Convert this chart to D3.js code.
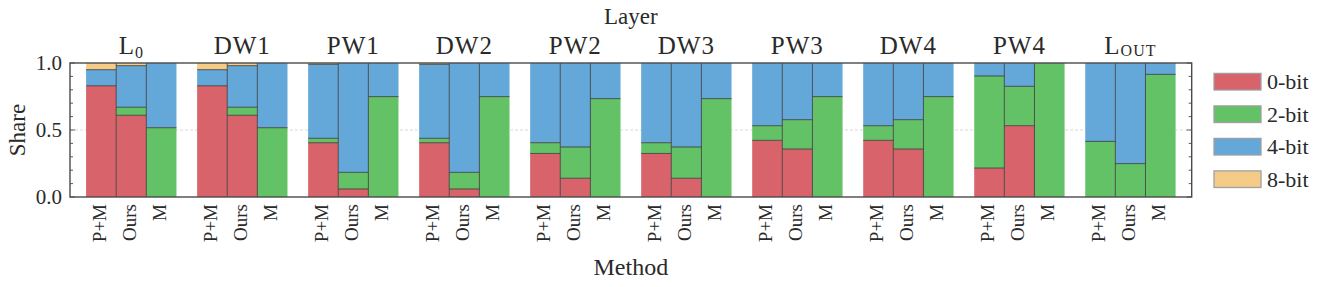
<!DOCTYPE html>
<html>
<head>
<meta charset="utf-8">
<script src="https://cdn.jsdelivr.net/npm/d3@7"></script>
<style>
  html, body { margin: 0; padding: 0; background: #fff; }
  svg { display: block; }
  text { font-family: "Liberation Serif", serif; fill: #2a2a2a; }
</style>
</head>
<body>
<svg id="chart" width="1329" height="287"></svg>
<script>
// ---- data (shares) ----
const layers = ["L0", "DW1", "PW1", "DW2", "PW2", "DW3", "PW3", "DW4", "PW4", "LOUT"];
const methods = ["P+M", "Ours", "M"];
const bitLabels = ["0-bit", "2-bit", "4-bit", "8-bit"];
const yTicks = [0, 0.5, 1.0];

// each row: one layer, values for [P+M, Ours, M]
const share0bit = [
  [0.830, 0.610, 0.000],
  [0.830, 0.610, 0.000],
  [0.405, 0.060, 0.000],
  [0.405, 0.060, 0.000],
  [0.325, 0.140, 0.000],
  [0.325, 0.140, 0.000],
  [0.423, 0.358, 0.000],
  [0.423, 0.358, 0.000],
  [0.216, 0.532, 0.000],
  [0.000, 0.000, 0.000]
];
const share2bit = [
  [0.000, 0.060, 0.517],
  [0.000, 0.060, 0.517],
  [0.033, 0.124, 0.749],
  [0.033, 0.124, 0.749],
  [0.080, 0.233, 0.734],
  [0.080, 0.233, 0.734],
  [0.109, 0.219, 0.749],
  [0.109, 0.219, 0.749],
  [0.687, 0.294, 1.000],
  [0.415, 0.249, 0.915]
];
const share4bit = [
  [0.120, 0.310, 0.483],
  [0.120, 0.310, 0.483],
  [0.552, 0.816, 0.251],
  [0.552, 0.816, 0.251],
  [0.595, 0.627, 0.266],
  [0.595, 0.627, 0.266],
  [0.468, 0.423, 0.251],
  [0.468, 0.423, 0.251],
  [0.097, 0.174, 0.000],
  [0.585, 0.751, 0.085]
];
const share8bit = [
  [0.050, 0.020, 0.000],
  [0.050, 0.020, 0.000],
  [0.010, 0.000, 0.000],
  [0.010, 0.000, 0.000],
  [0.000, 0.000, 0.000],
  [0.000, 0.000, 0.000],
  [0.000, 0.000, 0.000],
  [0.000, 0.000, 0.000],
  [0.000, 0.000, 0.000],
  [0.000, 0.000, 0.000]
];
const bitColors = ["#d8636a", "#64c266", "#64a7d9", "#f5cc87"];

// ---- build table ----
const series = [share0bit, share2bit, share4bit, share8bit];
const rows = [];
layers.forEach((L, li) => methods.forEach((m, mi) => {
  const r = { layer: L, method: m };
  bitLabels.forEach((b, bi) => r[b] = series[bi][li][mi]);
  rows.push(r);
}));
const stacked = d3.stack().keys(bitLabels)(rows);

// ---- layout ----
const svg = d3.select("#chart");
const plot = { left: 70, right: 1191.7, top: 63, bottom: 197 };

const gx = d3.scaleBand().domain(layers).range([plot.left, plot.right])
  .paddingInner(0.186).paddingOuter(0.145);
const mx = d3.scaleBand().domain(methods).range([0, gx.bandwidth()]);
const y = d3.scaleLinear().domain([0, 1]).range([plot.bottom, plot.top]);
const color = d3.scaleOrdinal().domain(bitLabels).range(bitColors);
const barX = d => gx(d.data.layer) + mx(d.data.method);

// gridline at 0.5 (behind)
svg.append("line")
  .attr("x1", plot.left).attr("x2", plot.right)
  .attr("y1", y(0.5)).attr("y2", y(0.5))
  .attr("stroke", "#cfcfcf").attr("stroke-width", 0.8)
  .attr("stroke-dasharray", "3,2");

// bars
const segG = svg.append("g");
stacked.forEach(s => {
  segG.selectAll(null).data(s.filter(d => d[1] - d[0] > 0)).enter().append("rect")
    .attr("x", barX)
    .attr("width", mx.bandwidth())
    .attr("y", d => y(d[1]))
    .attr("height", d => y(d[0]) - y(d[1]))
    .attr("fill", color(s.key));
});

// segment boundaries (tops of segments below 1.0)
const edgeG = svg.append("g").attr("stroke", "#3c3c3c").attr("stroke-width", 1).attr("stroke-opacity", 0.85);
stacked.forEach(s => {
  edgeG.selectAll(null).data(s.filter(d => d[1] - d[0] > 0 && d[1] < 0.999)).enter().append("line")
    .attr("x1", barX).attr("x2", d => barX(d) + mx.bandwidth())
    .attr("y1", d => y(d[1])).attr("y2", d => y(d[1]));
});
// vertical separators between neighbouring bars of one group
layers.forEach(L => {
  methods.slice(1).forEach(m => {
    edgeG.append("line")
      .attr("x1", gx(L) + mx(m)).attr("x2", gx(L) + mx(m))
      .attr("y1", y(0)).attr("y2", y(1));
  });
});

// frame
svg.append("rect")
  .attr("x", plot.left).attr("y", plot.top)
  .attr("width", plot.right - plot.left).attr("height", plot.bottom - plot.top)
  .attr("fill", "none").attr("stroke", "#4a4a4a").attr("stroke-width", 1.4);

// y ticks (inward, both sides)
const minor = d3.range(0, 1.0001, 0.1);
minor.forEach(v => {
  const major = yTicks.some(t => Math.abs(t - v) < 1e-6);
  const len = major ? 5 : 3;
  svg.append("line").attr("x1", plot.left).attr("x2", plot.left + len)
    .attr("y1", y(v)).attr("y2", y(v)).attr("stroke", "#4a4a4a").attr("stroke-width", 0.9);
  svg.append("line").attr("x1", plot.right).attr("x2", plot.right - len)
    .attr("y1", y(v)).attr("y2", y(v)).attr("stroke", "#4a4a4a").attr("stroke-width", 0.9);
});
svg.selectAll(null).data(yTicks).enter().append("text")
  .attr("x", plot.left - 8).attr("y", d => y(d)).attr("dy", "0.34em")
  .attr("text-anchor", "end").style("font-size", "21px")
  .text(d => d.toFixed(1));

// y title
svg.append("text")
  .attr("transform", `translate(17,${(plot.top + plot.bottom) / 2}) rotate(-90)`)
  .attr("text-anchor", "middle").attr("dy", "0.35em")
  .style("font-size", "23px").text("Share");

// x tick labels (rotated)
layers.forEach(L => methods.forEach(m => {
  const cx = gx(L) + mx(m) + mx.bandwidth() / 2 - 1.5;
  svg.append("text")
    .attr("transform", `translate(${cx},${plot.bottom + 7}) rotate(-90)`)
    .attr("text-anchor", "end").attr("dy", "0.33em")
    .style("font-size", "19px").text(m);
}));

// x title
svg.append("text")
  .attr("x", (plot.left + plot.right) / 2).attr("y", 275)
  .attr("text-anchor", "middle").style("font-size", "24px").text("Method");

// layer labels on top
layers.forEach(L => {
  const t = svg.append("text")
    .attr("x", gx(L) + gx.bandwidth() / 2).attr("y", 54)
    .attr("text-anchor", "middle").style("font-size", "25px")
    .style("letter-spacing", "1px");
  if (L === "L0") {
    t.append("tspan").text("L");
    t.append("tspan").attr("dy", 4).style("font-size", "16px").text("0");
  } else if (L === "LOUT") {
    t.append("tspan").text("L");
    t.append("tspan").attr("dy", 2).style("font-size", "16px").text("OUT");
  } else {
    t.text(L);
  }
});

// top title
svg.append("text")
  .attr("x", (plot.left + plot.right) / 2).attr("y", 24)
  .attr("text-anchor", "middle").style("font-size", "23px").text("Layer");

// legend
const lg = svg.append("g");
bitLabels.forEach((b, i) => {
  const cy = 81.7 + i * 32.5;
  lg.append("rect").attr("x", 1214).attr("y", cy - 8.3)
    .attr("width", 47).attr("height", 16.6)
    .attr("fill", color(b)).attr("stroke", "#a0a0a0").attr("stroke-width", 1.3);
  lg.append("text").attr("x", 1267).attr("y", cy).attr("dy", "0.35em")
    .style("font-size", "22px").text(b);
});
</script>
</body>
</html>
